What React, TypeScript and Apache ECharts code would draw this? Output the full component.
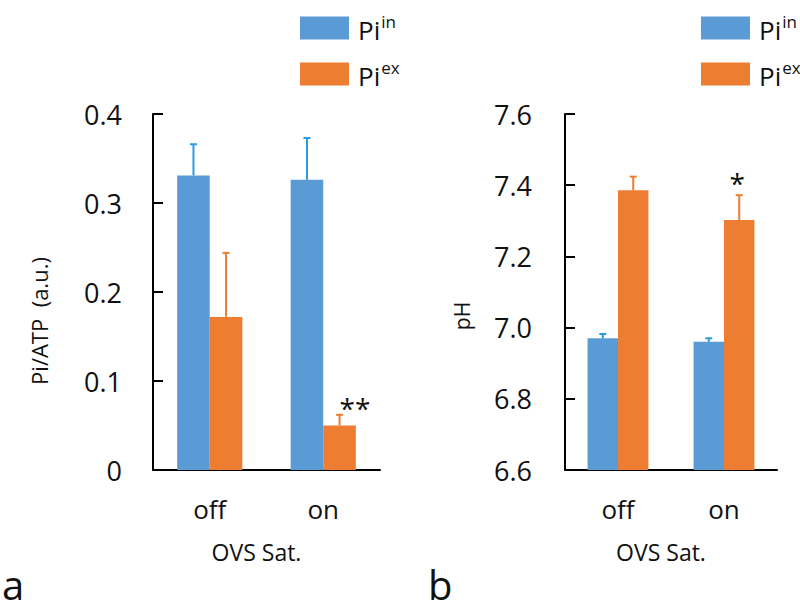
import { useEffect, useRef } from 'react';
import * as echarts from 'echarts';

const categories = ['off', 'on'];
const seriesNames = ['Pi_in', 'Pi_ex'];

const ratioIn = [0.331, 0.326];
const ratioInErr = [0.035, 0.047];
const ratioEx = [0.172, 0.05];
const ratioExErr = [0.072, 0.012];
const ratioExSig = ['', '**'];

const phIn = [6.97, 6.96];
const phInErr = [0.012, 0.01];
const phEx = [7.386, 7.302];
const phExErr = [0.038, 0.07];
const phExSig = ['', '*'];

const BLUE = '#5B9BD5';
const ORANGE = '#ED7D31';
const BLUE_ERR = '#2A9AE2';
const FONT = 'Open Sans';
const BAR_FRAC = 0.287;

function errSeries(
  xAxisIndex: number,
  vals: number[],
  errs: number[],
  sig: string[],
  side: number,
  color: string
) {
  return {
    type: 'custom',
    xAxisIndex,
    yAxisIndex: xAxisIndex,
    z: 5,
    silent: true,
    data: vals.map((v, i) => [i, v, v + errs[i]]),
    renderItem: (params: any, api: any) => {
      const cat = api.value(0);
      const v = api.value(1);
      const top = api.value(2);
      const band = api.size([1, 0])[0];
      const base = api.coord([cat, v]);
      const end = api.coord([cat, top]);
      const x = base[0] + (side * band * BAR_FRAC) / 2;
      const children: any[] = [
        {
          type: 'line',
          shape: { x1: x, y1: base[1], x2: x, y2: end[1] },
          style: { stroke: color, lineWidth: 2 },
        },
        {
          type: 'line',
          shape: { x1: x - 3.5, y1: end[1], x2: x + 3.5, y2: end[1] },
          style: { stroke: color, lineWidth: 2 },
        },
      ];
      const s = sig[params.dataIndex];
      if (s) {
        const multi = s.length > 1;
        children.push({
          type: 'text',
          style: {
            text: s,
            x: multi ? x : x - 2,
            y: end[1] - (multi ? 7 : 12),
            align: multi ? 'left' : 'center',
            verticalAlign: 'middle',
            fontSize: 28,
            fontFamily: FONT,
            fill: '#111',
          },
        });
      }
      return { type: 'group', children };
    },
  };
}

const legendRich = {
  b: { fontSize: 26, fontFamily: FONT, color: '#111', lineHeight: 30, verticalAlign: 'bottom' },
  s: { fontSize: 17, fontFamily: FONT, color: '#111', lineHeight: 17, verticalAlign: 'top', padding: [0, 0, 12, 1] },
};

function legendAt(left: number) {
  return {
    data: seriesNames,
    left,
    top: 8,
    orient: 'vertical',
    itemWidth: 49,
    itemHeight: 23,
    itemGap: 16,
    icon: 'rect',
    selectedMode: false,
    formatter: (name: string) => (name === 'Pi_in' ? '{b|Pi}{s|in}' : '{b|Pi}{s|ex}'),
    textStyle: { rich: legendRich, padding: [0, 0, 0, 4] },
  };
}

function xAxisDef(gridIndex: number) {
  return {
    type: 'category',
    gridIndex,
    data: categories,
    axisLine: { lineStyle: { color: '#000', width: 2 } },
    axisTick: { show: false },
    axisLabel: { fontSize: 26, fontFamily: FONT, color: '#111', margin: 26 },
    name: 'OVS Sat.',
    nameLocation: 'middle',
    nameGap: 70,
    nameTextStyle: { fontSize: 23, fontFamily: FONT, color: '#111', padding: [0, 20, 0, 0] },
  };
}

const panelTitleStyle = { fontSize: 40, lineHeight: 40, fontWeight: 'normal', color: '#111', fontFamily: FONT };

export default function App() {
  const ref = useRef<HTMLDivElement>(null);
  useEffect(() => {
    if (!ref.current) return;
    const chart = echarts.init(ref.current, null, { renderer: 'svg' });
    chart.setOption({
      animation: false,
      textStyle: { fontFamily: FONT },
      title: [
        { text: 'a', left: 2, top: 564, padding: 0, textStyle: panelTitleStyle },
        { text: 'b', left: 428, top: 564, padding: 0, textStyle: panelTitleStyle },
      ],
      legend: [legendAt(295), legendAt(696)],
      grid: [
        { left: 153, right: 420, top: 114, bottom: 143 },
        { left: 565, right: 23, top: 114, bottom: 143 },
      ],
      xAxis: [xAxisDef(0), xAxisDef(1)],
      yAxis: [
        {
          type: 'value',
          gridIndex: 0,
          min: 0,
          max: 0.4,
          interval: 0.1,
          splitLine: { show: false },
          axisLine: { show: true, lineStyle: { color: '#000', width: 2 } },
          axisTick: { show: true, inside: true, length: 10, lineStyle: { color: '#000', width: 2 } },
          axisLabel: {
            fontSize: 27,
            fontFamily: FONT,
            color: '#111',
            margin: 31,
            formatter: (v: number) => (v === 0 ? '0' : v.toFixed(1)),
          },
          name: 'Pi/ATP  (a.u.)',
          nameLocation: 'middle',
          nameGap: 103,
          nameTextStyle: { fontSize: 22, fontFamily: FONT, color: '#111', padding: [0, 58, 0, 0] },
        },
        {
          type: 'value',
          gridIndex: 1,
          min: 6.6,
          max: 7.6,
          interval: 0.2,
          splitLine: { show: false },
          axisLine: { show: true, lineStyle: { color: '#000', width: 2 } },
          axisTick: { show: true, inside: true, length: 10, lineStyle: { color: '#000', width: 2 } },
          axisLabel: {
            fontSize: 27,
            fontFamily: FONT,
            color: '#111',
            margin: 33,
            formatter: (v: number) => v.toFixed(1),
          },
          name: 'pH',
          nameLocation: 'middle',
          nameGap: 93,
          nameTextStyle: { fontSize: 21, fontFamily: FONT, color: '#111', padding: [0, 48, 0, 0] },
        },
      ],
      series: [
        { type: 'bar', name: 'Pi_in', xAxisIndex: 0, yAxisIndex: 0, data: ratioIn, barWidth: `${BAR_FRAC * 100}%`, barGap: '0%', itemStyle: { color: BLUE } },
        { type: 'bar', name: 'Pi_ex', xAxisIndex: 0, yAxisIndex: 0, data: ratioEx, barWidth: `${BAR_FRAC * 100}%`, barGap: '0%', itemStyle: { color: ORANGE } },
        { type: 'bar', name: 'Pi_in', xAxisIndex: 1, yAxisIndex: 1, data: phIn, barWidth: `${BAR_FRAC * 100}%`, barGap: '0%', itemStyle: { color: BLUE } },
        { type: 'bar', name: 'Pi_ex', xAxisIndex: 1, yAxisIndex: 1, data: phEx, barWidth: `${BAR_FRAC * 100}%`, barGap: '0%', itemStyle: { color: ORANGE } },
        errSeries(0, ratioIn, ratioInErr, ['', ''], -1, BLUE_ERR),
        errSeries(0, ratioEx, ratioExErr, ratioExSig, 1, ORANGE),
        errSeries(1, phIn, phInErr, ['', ''], -1, BLUE_ERR),
        errSeries(1, phEx, phExErr, phExSig, 1, ORANGE),
      ],
    });
    return () => chart.dispose();
  }, []);
  return <div ref={ref} style={{ width: 800, height: 613, position: 'absolute', left: 0, top: 0 }} />;
}
